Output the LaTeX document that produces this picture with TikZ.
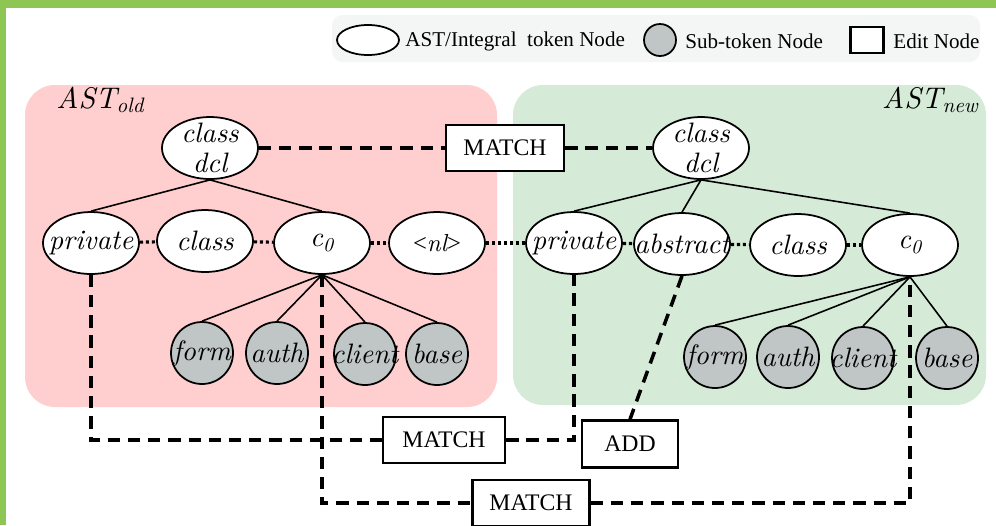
\documentclass[tikz,border=0pt]{standalone}
\usepackage{fontspec}
\setmainfont{Liberation Serif}
\newfontfamily\lmit{lmroman10-italic.otf}
\usepackage{tikz}
\usetikzlibrary{shapes.geometric}

\definecolor{oldpink}{RGB}{255,207,207}
\definecolor{newgreen}{RGB}{213,235,216}
\definecolor{subgray}{RGB}{192,197,197}
\definecolor{legendgray}{RGB}{244,246,245}
\definecolor{bandgreen}{RGB}{141,198,83}
\newcommand{\tk}[1]{\makebox[0pt]{#1}}

\begin{document}
\begin{tikzpicture}[x=0.02cm,y=-0.02cm,
  tok/.style={ellipse,draw,line width=1pt,fill=white,inner sep=0pt,
    minimum width=1.92cm,minimum height=1.24cm,font=\fontsize{16}{17}\lmit},
  sub/.style={circle,draw,line width=1pt,fill=subgray,inner sep=0pt,
    minimum size=1.24cm,font=\fontsize{16}{17}\lmit},
  edit/.style={rectangle,draw,line width=1.4pt,fill=white,
    minimum width=2.36cm,minimum height=0.92cm,font=\fontsize{13.5}{15}\selectfont},
  legtext/.style={anchor=west,inner sep=0pt,font=\fontsize{12}{14}\selectfont},
  tree/.style={line width=0.9pt},
  seq/.style={line width=1.8pt,dash pattern=on 1.8pt off 1.6pt},
  link/.style={line width=2pt,dash pattern=on 7pt off 4.5pt}]
\useasboundingbox (0,0) rectangle (996,525);
\fill[white] (0,0) rectangle (996,525);
\fill[bandgreen] (0,0) rectangle (996,8);
\fill[bandgreen] (0,0) rectangle (6,525);

% legend
\fill[legendgray,rounded corners=6pt] (332,15) rectangle (980,62);
\node[ellipse,draw,line width=1pt,fill=white,minimum width=1.24cm,minimum height=0.6cm] (lgtok) at (368,40) {};
\node[legtext] (lgtoktext) at (405,41) {AST/Integral\ \ token Node};
\node[circle,draw,line width=1pt,fill=subgray,minimum size=0.64cm,inner sep=0pt] (lgsub) at (660,40) {};
\node[legtext] (lgsubtext) at (685,41) {Sub-token Node};
\node[rectangle,draw,line width=1.4pt,fill=white,minimum width=0.66cm,minimum height=0.52cm,inner sep=0pt] (lgedit) at (867,40) {};
\node[legtext] (lgedittext) at (893,41) {Edit Node};

% the two trees
\fill[oldpink,rounded corners=0.6cm] (25,85) rectangle (497,407);
\fill[newgreen,rounded corners=0.6cm] (513,85) rectangle (986,405);
\node[anchor=west,inner sep=0pt,font=\fontsize{17}{19}\lmit] (oldlabel) at (56,100) {AST\textsubscript{old}};
\node[anchor=east,inner sep=0pt,font=\fontsize{17}{19}\lmit] (newlabel) at (979,100) {AST\textsubscript{new}};

\node[tok,align=center,inner ysep=-3pt] (od) at (210,148) {\tk{class}\\\tk{dcl}};
\node[tok] (op) at (91,243) {\tk{private}};
\node[tok] (oc) at (205,241) {\tk{class}};
\node[tok] (o0) at (322,243) {\tk{c\textsubscript{0}}};
\node[tok,font=\fontsize{14}{15}\selectfont] (onl) at (437,243) {\tk{<{\lmit nl}>}};

\node[tok,align=center,inner ysep=-3pt] (nd) at (701,148) {\tk{class}\\\tk{dcl}};
\node[tok] (np) at (574,243) {\tk{private}};
\node[tok] (na) at (682,244) {\tk{abstract}};
\node[tok] (nc) at (798,245) {\tk{class}};
\node[tok] (n0) at (910,245) {\tk{c\textsubscript{0}}};

\node[sub] (of) at (202,353) {\tk{form}};
\node[sub] (oa) at (277,353) {\tk{auth}};
\node[sub] (ocl) at (365,354) {\tk{client}};
\node[sub] (ob) at (437,354) {\tk{base}};

\node[sub] (nf) at (715,357) {\tk{form}};
\node[sub] (nau) at (788,357) {\tk{auth}};
\node[sub] (ncl) at (863,358) {\tk{client}};
\node[sub] (nb) at (947,358) {\tk{base}};

\draw[tree] (od.south) -- (op.north);
\draw[tree] (od.south) -- (o0.north);
\draw[tree] (nd.south) -- (np.north);
\draw[tree] (nd.south) -- (na.north);
\draw[tree] (nd.south) -- (n0.north);
\foreach \s in {of,oa,ocl,ob}
  \draw[tree] (o0.south) -- (\s.north);
\foreach \s in {nf,nau,ncl,nb}
  \draw[tree] (n0.south) -- (\s.north);

\draw[seq] (op) -- (oc);
\draw[seq] (oc) -- (o0);
\draw[seq] (o0) -- (onl);
\draw[seq] (onl) -- (np);
\draw[seq] (np) -- (na);
\draw[seq] (na) -- (nc);
\draw[seq] (nc) -- (n0);

% edit nodes
\node[edit] (m1) at (505,148) {MATCH};
\node[edit,minimum width=2.44cm] (m2) at (444,440) {MATCH};
\node[edit,minimum width=1.92cm,minimum height=0.94cm] (add) at (630,444) {ADD};
\node[edit,minimum width=2.34cm] (m3) at (531,503) {MATCH};

\draw[link] (od.east) -- (m1.west);
\draw[link] (m1.east) -- (nd.west);
\draw[link] (op.south) |- (m2.west);
\draw[link] (m2.east) -| (np.south);
\draw[link] (na.south) -- (add.north);
\draw[link] (o0.south) |- (m3.west);
\draw[link] (m3.east) -| (n0.south);
\end{tikzpicture}
\end{document}
